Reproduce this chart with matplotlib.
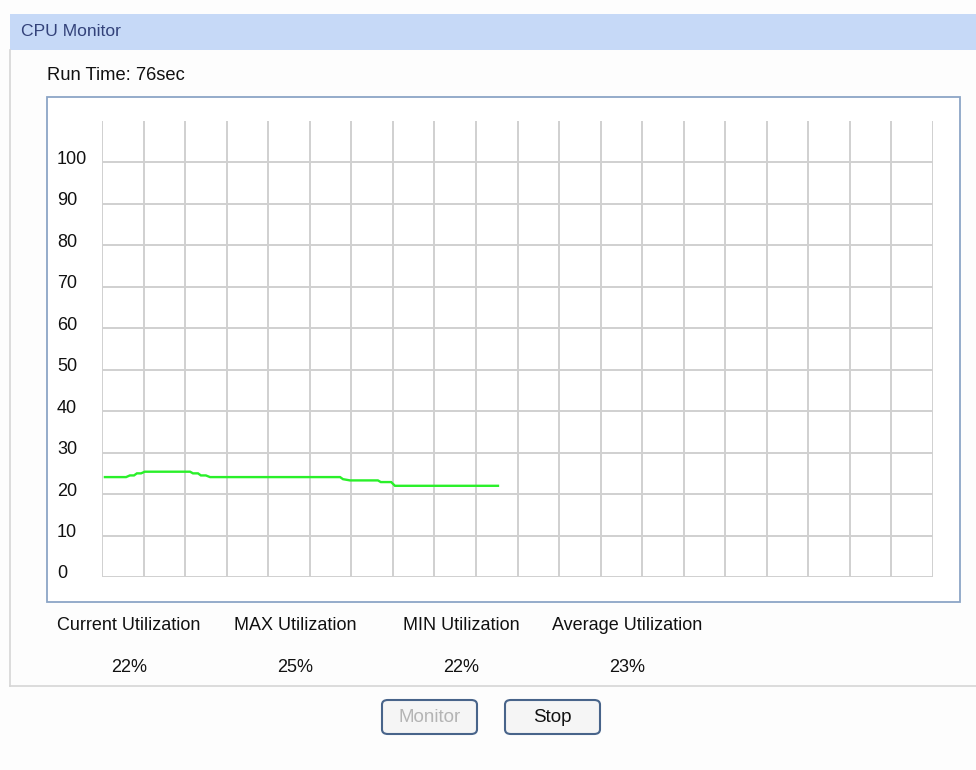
import matplotlib
matplotlib.use("Agg")
import matplotlib.pyplot as plt
from matplotlib.patches import Rectangle, FancyBboxPatch
from matplotlib.transforms import blended_transform_factory, ScaledTranslation

# data (x in grid steps, y in percent)
cpu_x = [0.07, 0.58, 0.67, 0.77, 0.84, 0.94, 1.03, 2.12, 2.19, 2.31, 2.38, 2.50,
         2.60, 5.73, 5.80, 5.97, 6.64, 6.71, 6.96, 7.05, 9.53]
cpu_y = [24.1, 24.1, 24.5, 24.5, 25.0, 25.0, 25.4, 25.4, 25.0, 25.0, 24.5, 24.5,
         24.1, 24.1, 23.6, 23.3, 23.3, 22.9, 22.9, 22.0, 22.0]
y_ticks = list(range(0, 101, 10))
stat_names = ["Current Utilization", "MAX Utilization", "MIN Utilization", "Average Utilization"]
stat_values = ["22%", "25%", "22%", "23%"]
run_time = "Run Time: 76sec"

W, H = 976, 770
plt.rcParams['font.family'] = ['Liberation Sans', 'DejaVu Sans']
fig = plt.figure(figsize=(W / 100, H / 100), dpi=100, facecolor='#fdfdfd')


def fx(px):
    return px / W


def fy(py):
    return 1 - py / H


def box(x0, y0, x1, y1, **kw):
    # rectangle in pixel coords (top-left origin)
    fig.patches.append(Rectangle((fx(x0), fy(y1)), fx(x1) - fx(x0), fy(y0) - fy(y1),
                                 transform=fig.transFigure, zorder=-1, **kw))


# header bar and panel
box(10, 14, 976, 50, facecolor='#c6d9f7', edgecolor='none')
fig.text(fx(21), fy(32), "CPU Monitor", color='#33427a', fontsize=12.6, va='center', ha='left')
fig.lines.append(plt.Line2D([fx(10), fx(10)], [fy(50), fy(686)], color='#d6d6d6', lw=1.2,
                            transform=fig.transFigure))
fig.lines.append(plt.Line2D([fx(10), fx(976)], [fy(686), fy(686)], color='#d6d6d6', lw=1.2,
                            transform=fig.transFigure))
fig.text(fx(47), fy(76), run_time, color='#111111', fontsize=13.2, va='center', ha='left')

# chart frame
box(47, 97, 960, 602, facecolor='white', edgecolor='#8ca5c6', lw=1.3)

# plot area
ax = fig.add_axes([fx(102), fy(577), fx(933) - fx(102), fy(121) - fy(577)])
ax.set_zorder(5)
ax.set_facecolor('none')
ax.set_xlim(0, 20)
ax.set_ylim(0, 110)
for s in ax.spines.values():
    s.set_visible(False)
ax.set_xticks([])
ax.set_yticks([])
for gx in range(0, 21):
    ax.axvline(gx, color='#d0d0d0', lw=1.4, zorder=1)
for gy in y_ticks:
    ax.axhline(gy, color='#d0d0d0', lw=1.4, zorder=1)
ax.plot(cpu_x, cpu_y, color='#2af02a', lw=1.7, zorder=3, solid_joinstyle='miter')

lab_tr = blended_transform_factory(fig.transFigure, ax.transData) + \
    ScaledTranslation(0, 3 / 100, fig.dpi_scale_trans)
for v in y_ticks:
    ax.text(fx(57), v, str(v), transform=lab_tr, ha='left', va='center',
            fontsize=13, color='#111111', clip_on=False)

# statistics
name_x = [129, 295, 461, 627]
for cx, name, val in zip(name_x, stat_names, stat_values):
    fig.text(fx(cx), fy(626), name, ha='center', va='center', fontsize=13, color='#111111')
    fig.text(fx(cx), fy(668), val, ha='center', va='center', fontsize=13, color='#111111')

# buttons
for (x0, x1), label, col in [((382, 477), "Monitor", '#b4b4b4'), ((505, 600), "Stop", '#111111')]:
    fig.patches.append(FancyBboxPatch((fx(x0), fy(734)), fx(x1) - fx(x0), fy(700) - fy(734),
                                      boxstyle="round,pad=0,rounding_size=0.006",
                                      transform=fig.transFigure, facecolor='#f5f5f5',
                                      edgecolor='#48648a', lw=1.5))
    fig.text(fx((x0 + x1) / 2), fy(718), label, ha='center', va='center', fontsize=13.5, color=col)

fig.savefig("out.png", dpi=100, facecolor=fig.get_facecolor())
